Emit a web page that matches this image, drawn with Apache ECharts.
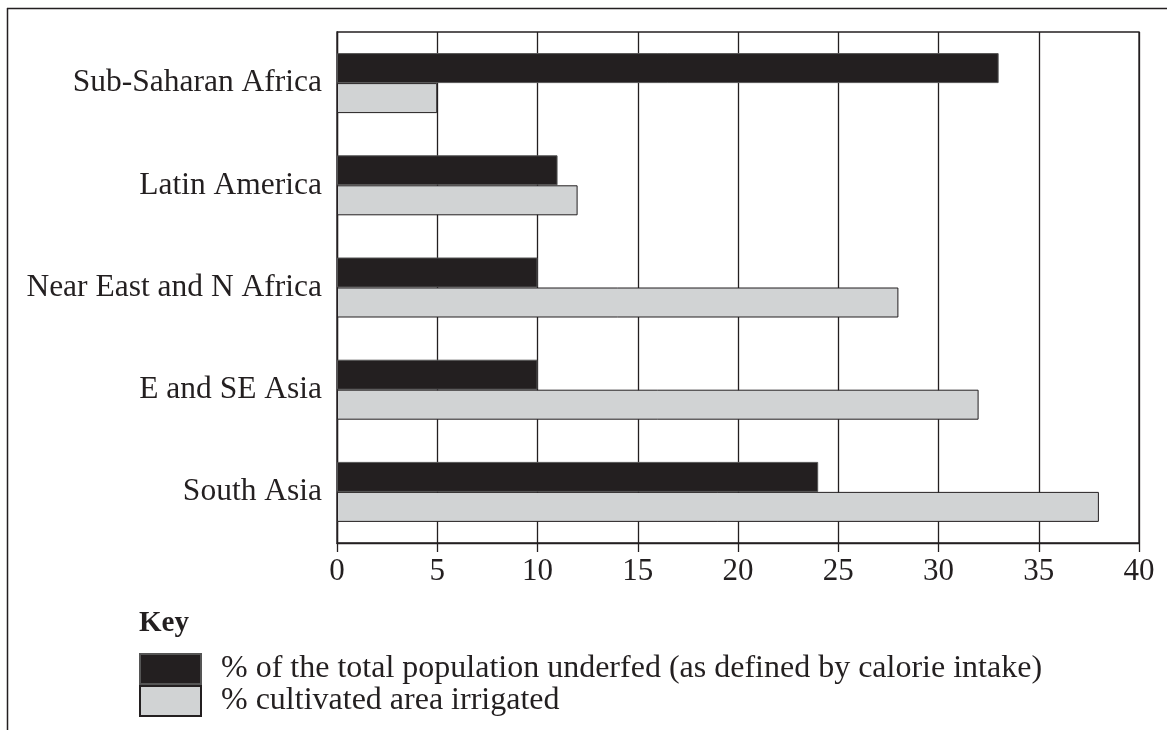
<!DOCTYPE html>
<html>
<head>
<meta charset="utf-8">
<script src="https://cdn.jsdelivr.net/npm/echarts@6/dist/echarts.min.js"></script>
<style>
html,body{margin:0;padding:0;background:#fff;}
#chart{width:1167px;height:730px;}
</style>
</head>
<body>
<div id="chart"></div>
<script>
const categories = ['Sub-Saharan Africa', 'Latin America', 'Near East and N Africa', 'E and SE Asia', 'South Asia'];
const underfed = [33, 11, 10, 10, 24];
const irrigated = [5, 12, 28, 32, 38];
const seriesNames = ['% of the total population underfed (as defined by calorie intake)', '% cultivated area irrigated'];
const xTicks = [0, 5, 10, 15, 20, 25, 30, 35, 40];

const FONT = "'Liberation Serif', 'Times New Roman', serif";
const INK = '#231f20';
const chart = echarts.init(document.getElementById('chart'));
chart.setOption({
  backgroundColor: '#fff',
  animation: false,
  textStyle: { fontFamily: FONT, color: INK },
  title: {
    text: 'Key', left: 139, top: 609, padding: 0,
    textStyle: { fontFamily: FONT, fontWeight: 'bold', fontSize: 29, color: INK }
  },
  legend: {
    orient: 'vertical', left: 139, top: 653, padding: 0,
    itemWidth: 61, itemHeight: 30, itemGap: 0,
    icon: 'rect',
    textStyle: { fontFamily: FONT, fontSize: 32, lineHeight: 30, color: INK, padding: [0, 0, 0, 15] },
    data: seriesNames
  },
  grid: {
    left: 337, right: 28, top: 32, bottom: 187,
    show: true, borderColor: INK, borderWidth: 1.3, containLabel: false
  },
  xAxis: {
    type: 'value', min: xTicks[0], max: xTicks[xTicks.length - 1], interval: 5,
    axisLine: { show: true, lineStyle: { color: INK, width: 1.3 } },
    axisTick: { show: true, length: 9, lineStyle: { color: INK, width: 1.3 } },
    axisLabel: { fontFamily: FONT, fontSize: 31, color: INK, margin: 13 },
    splitLine: { show: true, lineStyle: { color: INK, width: 1.3 } }
  },
  yAxis: {
    type: 'category', data: categories, inverse: true,
    axisLine: { show: true, lineStyle: { color: INK, width: 1.3 } },
    axisTick: { show: false },
    axisLabel: { fontFamily: FONT, fontSize: 31.5, color: INK, margin: 15, padding: [0, 0, 4, 0] }
  },
  series: [
    {
      name: seriesNames[0], type: 'bar', data: underfed, barWidth: 30, barGap: '0%',
      itemStyle: { color: INK, borderColor: '#555', borderWidth: 1 }
    },
    {
      name: seriesNames[1], type: 'bar', data: irrigated, barWidth: 30, barGap: '0%',
      itemStyle: { color: '#d1d3d4', borderColor: INK, borderWidth: 1 }
    }
  ],
  graphic: [
    { type: 'line', shape: { x1: 7.5, y1: 8, x2: 7.5, y2: 730 }, style: { stroke: INK, lineWidth: 1.5 } },
    { type: 'line', shape: { x1: 7, y1: 8.5, x2: 1167, y2: 8.5 }, style: { stroke: INK, lineWidth: 1.5 } }
  ]
});
</script>
</body>
</html>
